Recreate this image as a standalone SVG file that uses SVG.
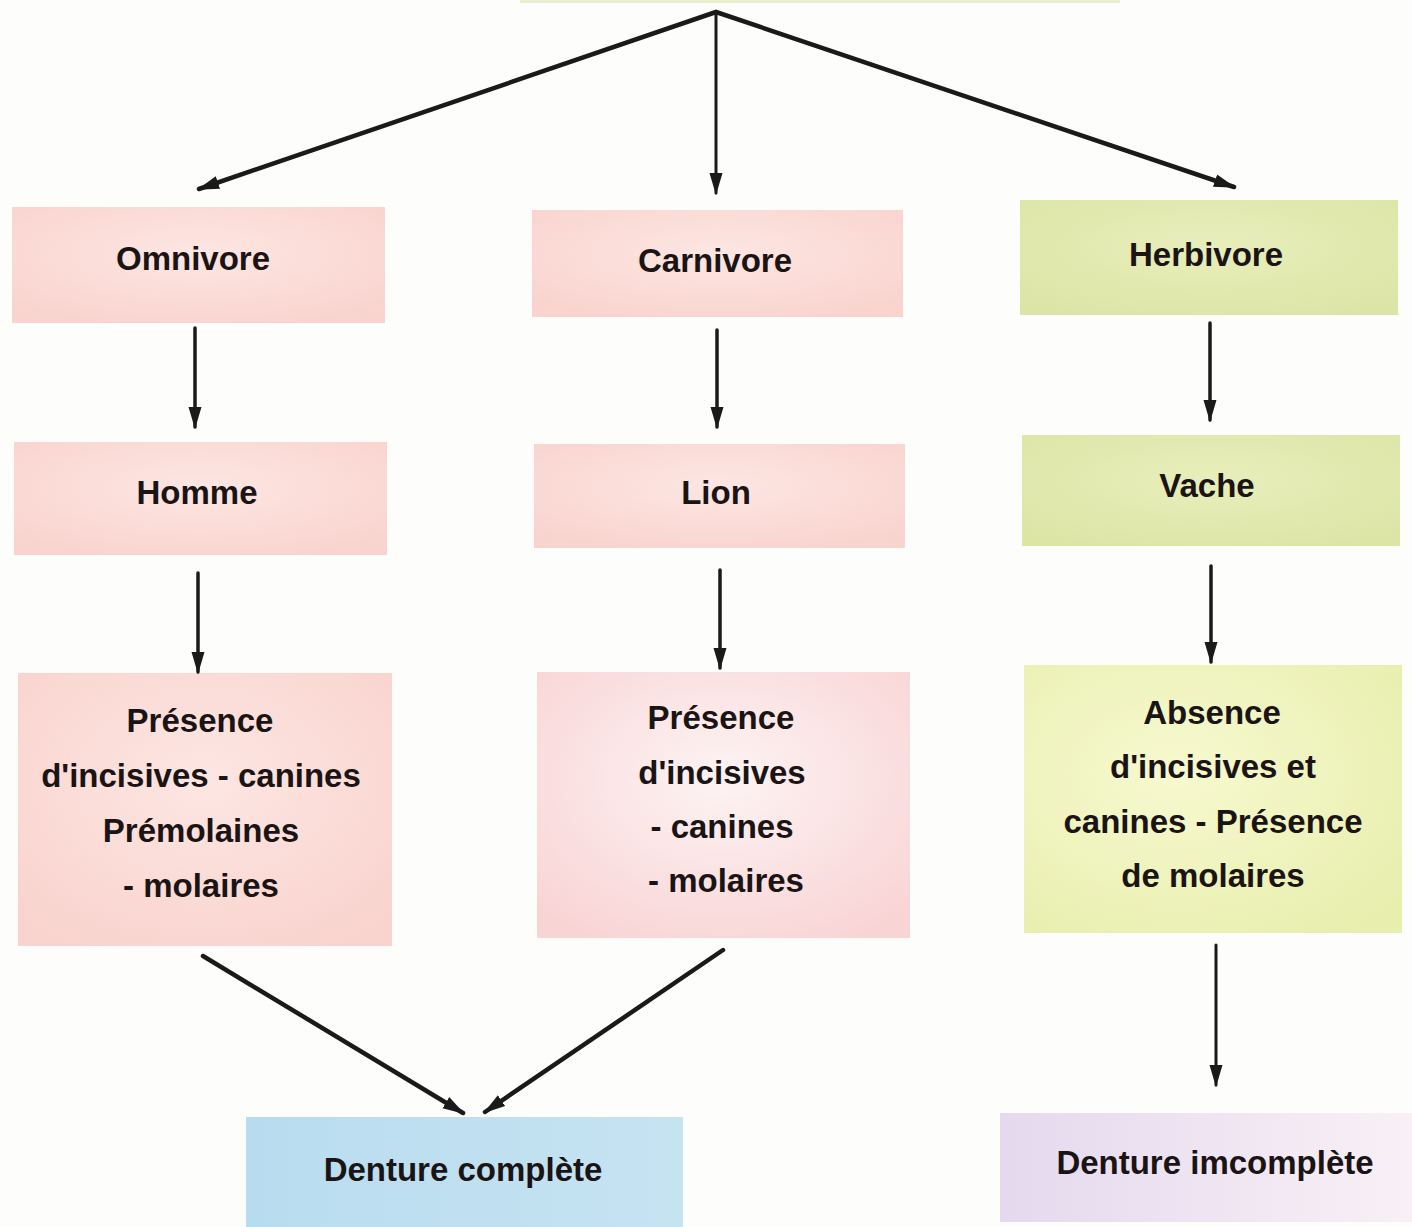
<svg xmlns="http://www.w3.org/2000/svg" width="1412" height="1227" viewBox="0 0 1412 1227">
<style>
.t{font-family:"Liberation Sans","DejaVu Sans",sans-serif;font-weight:bold;font-size:33px;fill:#1a1414;text-anchor:middle}
.c{stroke:#1a1a1a;fill:none;stroke-linecap:round}
</style>
<defs>
<marker id="ah2" viewBox="0 0 22 22" refX="20" refY="11" markerWidth="22" markerHeight="22" markerUnits="userSpaceOnUse" orient="auto">
<path d="M0,4.5 L22,11 L0,17.5 z" fill="#1a1a1a"/>
</marker>
<radialGradient id="pink" cx="0.5" cy="0.4" r="0.7">
<stop offset="0" stop-color="#fde6e2"/>
<stop offset="1" stop-color="#f9d3ce"/>
</radialGradient>
<radialGradient id="pinkw" cx="0.5" cy="0.4" r="0.7">
<stop offset="0" stop-color="#fdf3f3"/>
<stop offset="1" stop-color="#f9d4d5"/>
</radialGradient>
<radialGradient id="green" cx="0.5" cy="0.4" r="0.7">
<stop offset="0" stop-color="#e8eebb"/>
<stop offset="1" stop-color="#dce5a6"/>
</radialGradient>
<radialGradient id="yel" cx="0.4" cy="0.4" r="0.75">
<stop offset="0" stop-color="#f7f9cf"/>
<stop offset="1" stop-color="#e8eeae"/>
</radialGradient>
<linearGradient id="blue" x1="0" y1="0" x2="1" y2="0">
<stop offset="0" stop-color="#b8dcef"/>
<stop offset="1" stop-color="#c6e3f2"/>
</linearGradient>
<linearGradient id="lav" x1="0" y1="0" x2="1" y2="0">
<stop offset="0" stop-color="#e5d9ee"/>
<stop offset="1" stop-color="#f8f0f6"/>
</linearGradient>
</defs>
<rect width="1412" height="1227" fill="#fdfdfb"/>
<rect x="520" y="-40" width="600" height="43" fill="#e8efcf"/>

<g id="n-omnivore"><rect x="12" y="207" width="373" height="116" fill="url(#pink)"/><text class="t" x="193" y="270">Omnivore</text></g>
<g id="n-carnivore"><rect x="532" y="210" width="371" height="107" fill="url(#pink)"/><text class="t" x="715" y="272">Carnivore</text></g>
<g id="n-herbivore"><rect x="1020" y="200" width="378" height="115" fill="url(#green)"/><text class="t" x="1206" y="266">Herbivore</text></g>

<g id="n-homme"><rect x="14" y="442" width="373" height="113" fill="url(#pink)"/><text class="t" x="197" y="504">Homme</text></g>
<g id="n-lion"><rect x="534" y="444" width="371" height="104" fill="url(#pink)"/><text class="t" x="716" y="504">Lion</text></g>
<g id="n-vache"><rect x="1022" y="435" width="378" height="111" fill="url(#green)"/><text class="t" x="1207" y="497">Vache</text></g>

<g id="n-omni-dents"><rect x="18" y="673" width="374" height="273" fill="url(#pink)"/>
<text class="t" x="200" y="732">Présence</text>
<text class="t" x="201" y="787">d'incisives - canines</text>
<text class="t" x="201" y="842">Prémolaines</text>
<text class="t" x="201" y="897">- molaires</text></g>
<g id="n-carni-dents"><rect x="537" y="672" width="373" height="266" fill="url(#pinkw)"/>
<text class="t" x="721" y="729">Présence</text>
<text class="t" x="722" y="784">d'incisives</text>
<text class="t" x="722" y="838">- canines</text>
<text class="t" x="726" y="892">- molaires</text></g>
<g id="n-herbi-dents"><rect x="1024" y="665" width="378" height="268" fill="url(#yel)"/>
<text class="t" x="1212" y="724">Absence</text>
<text class="t" x="1213" y="778">d'incisives et</text>
<text class="t" x="1213" y="833">canines - Présence</text>
<text class="t" x="1213" y="887">de molaires</text></g>

<g id="n-complete"><rect x="246" y="1117" width="437" height="110" fill="url(#blue)"/><text class="t" x="463" y="1181">Denture complète</text></g>
<g id="n-incomplete"><rect x="1000" y="1113" width="412" height="109" fill="url(#lav)"/><text class="t" x="1215" y="1174">Denture imcomplète</text></g>

<g id="connectors">
<line class="c" x1="716" y1="12" x2="199" y2="189" stroke-width="4.5" marker-end="url(#ah2)"/>
<line class="c" x1="716" y1="12" x2="716" y2="193" stroke-width="3" marker-end="url(#ah2)"/>
<line class="c" x1="716" y1="12" x2="1234" y2="187" stroke-width="4.5" marker-end="url(#ah2)"/>
<line class="c" x1="195" y1="328" x2="195" y2="427" stroke-width="3.5" marker-end="url(#ah2)"/>
<line class="c" x1="717" y1="330" x2="717" y2="427" stroke-width="3.5" marker-end="url(#ah2)"/>
<line class="c" x1="1210" y1="323" x2="1210" y2="420" stroke-width="3.5" marker-end="url(#ah2)"/>
<line class="c" x1="198" y1="573" x2="198" y2="672" stroke-width="3.5" marker-end="url(#ah2)"/>
<line class="c" x1="720" y1="570" x2="720" y2="668" stroke-width="3.5" marker-end="url(#ah2)"/>
<line class="c" x1="1211" y1="566" x2="1211" y2="662" stroke-width="3.5" marker-end="url(#ah2)"/>
<line class="c" x1="203" y1="956" x2="463" y2="1113" stroke-width="4.5" marker-end="url(#ah2)"/>
<line class="c" x1="723" y1="950" x2="485" y2="1112" stroke-width="4.5" marker-end="url(#ah2)"/>
<line class="c" x1="1216" y1="945" x2="1216" y2="1085" stroke-width="3" marker-end="url(#ah2)"/>
</g>
</svg>
